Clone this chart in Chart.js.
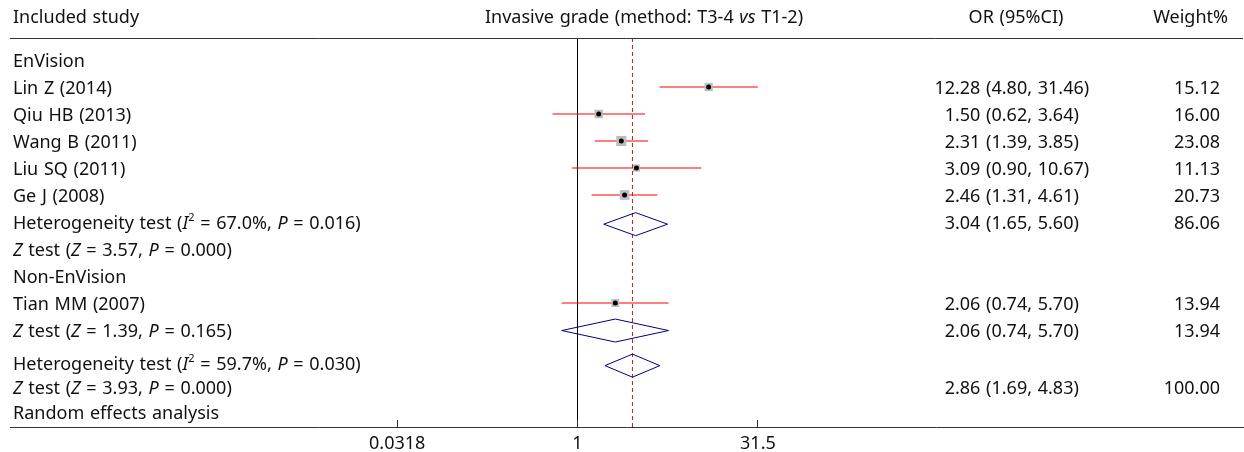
<!DOCTYPE html>
<html>
<head>
<meta charset="utf-8">
<script src="https://cdn.jsdelivr.net/npm/chart.js@4.4.1/dist/chart.umd.min.js"></script>
<style>
  html, body { margin: 0; background: #fff; }
</style>
</head>
<body>
<canvas id="grafico" width="1244" height="452"></canvas>
<script>
// individual studies
const studies  = ['Lin Z (2014)', 'Qiu HB (2013)', 'Wang B (2011)', 'Liu SQ (2011)', 'Ge J (2008)', 'Tian MM (2007)'];
const orValue  = [12.28, 1.50, 2.31, 3.09, 2.46, 2.06];
const ciLow    = [4.80, 0.62, 1.39, 0.90, 1.31, 0.74];
const ciHigh   = [31.46, 3.64, 3.85, 10.67, 4.61, 5.70];
const weights  = [15.12, 16.00, 23.08, 11.13, 20.73, 13.94];

// pooled results: EnVision, Non-EnVision, all studies
const pooledOR     = [3.04, 2.06, 2.86];
const pooledLow    = [1.65, 0.74, 1.69];
const pooledHigh   = [5.60, 5.70, 4.83];
const pooledWeight = [86.06, 13.94, 100.00];

const groups = ['EnVision', 'Non-EnVision'];
const hetI2  = ['67.0', '59.7'];
const hetP   = ['0.016', '0.030'];
const zStat  = ['3.57', '1.39', '3.93'];
const zP     = ['0.000', '0.165', '0.000'];

const tickValues = [0.0318, 1, 31.5];
const tickLabels = ['0.0318', '1', '31.5'];

// row layout (row units on the y axis, top to bottom), 27px per row
const studyRow  = [1, 2, 3, 4, 5, 9];
const pooledRow = [6.08, 10.02, 11.32];
const yMin = -22 / 27, yMax = 367 / 27;
const halfDiamond = 0.426;

// log axis range: OR = 1 sits at x = 577.5, ~120.4px per decade
const xMinExp = -4.7135, xMaxExp = 5.5357;

const FONT = '"Noto Sans", "DejaVu Sans", sans-serif';
const FS = 18;

function pts(xs, ys) { return xs.map((x, i) => ({ x: x, y: ys[i] })); }

const datasets = [];

// reference lines: no effect and pooled estimate
datasets.push({
  data: pts([1, 1], [yMin, yMax]), showLine: true, borderColor: '#000',
  borderWidth: 1, pointRadius: 0, order: 6
});
datasets.push({
  data: pts([pooledOR[2], pooledOR[2]], [yMin, yMax]), showLine: true,
  borderColor: '#a3262b', borderWidth: 1, borderDash: [4, 3], pointRadius: 0, order: 5
});

// confidence interval of each study
studies.forEach((s, i) => {
  datasets.push({
    label: s,
    data: pts([ciLow[i], ciHigh[i]], [studyRow[i], studyRow[i]]),
    showLine: true, borderColor: '#ff0000', borderWidth: 1.2, pointRadius: 0, order: 4
  });
});

// weight boxes
datasets.push({
  data: pts(orValue, studyRow), pointStyle: 'rect',
  pointRadius: c => 1.5 * Math.sqrt(weights[c.dataIndex]),
  backgroundColor: '#bdbdbd', borderWidth: 0, order: 3
});
// point estimates
datasets.push({
  data: pts(orValue, studyRow), pointStyle: 'circle', pointRadius: 2.5,
  backgroundColor: '#000', borderWidth: 0, order: 2
});

// pooled diamonds
pooledOR.forEach((v, i) => {
  const r = pooledRow[i];
  datasets.push({
    data: pts([pooledLow[i], v, pooledHigh[i], v, pooledLow[i]],
              [r, r - halfDiamond, r, r + halfDiamond, r]),
    showLine: true, borderColor: '#00007f', borderWidth: 1, pointRadius: 0, order: 1
  });
});

// text helpers
function segFont(st) {
  if (st === 'i') return 'italic ' + FS + 'px ' + FONT;
  if (st === 's') return '11px ' + FONT;
  return FS + 'px ' + FONT;
}
function segWidth(ctx, segs) {
  let w = 0;
  segs.forEach(s => { ctx.font = segFont(s[1]); w += ctx.measureText(s[0]).width; });
  return w;
}
function drawRich(ctx, segs, x, y, align) {
  let cx = x;
  const w = segWidth(ctx, segs);
  if (align === 'center') cx = x - w / 2;
  if (align === 'right') cx = x - w;
  ctx.textAlign = 'left';
  ctx.textBaseline = 'middle';
  segs.forEach(s => {
    ctx.font = segFont(s[1]);
    ctx.fillText(s[0], cx, s[1] === 's' ? y - 6 : y);
    cx += ctx.measureText(s[0]).width;
  });
}
function hetText(g) {
  return [['Heterogeneity test ('], ['I', 'i'], ['2', 's'], [' = ' + hetI2[g] + '%, '], ['P', 'i'], [' = ' + hetP[g] + ')']];
}
function zText(k) {
  return [['Z', 'i'], [' test ('], ['Z', 'i'], [' = ' + zStat[k] + ', '], ['P', 'i'], [' = ' + zP[k] + ')']];
}
function orText(v, lo, hi) {
  return v.toFixed(2) + ' (' + lo.toFixed(2) + ', ' + hi.toFixed(2) + ')';
}

// table rows: left label, optional OR text and weight
const rows = [];
rows.push({ r: 0, segs: [[groups[0]]] });
studies.slice(0, 5).forEach((s, i) => rows.push({ r: studyRow[i], segs: [[s]], or: [orValue[i], ciLow[i], ciHigh[i]], w: weights[i] }));
rows.push({ r: 6, segs: hetText(0), or: [pooledOR[0], pooledLow[0], pooledHigh[0]], w: pooledWeight[0] });
rows.push({ r: 7, segs: zText(0) });
rows.push({ r: 8, segs: [[groups[1]]] });
rows.push({ r: studyRow[5], segs: [[studies[5]]], or: [orValue[5], ciLow[5], ciHigh[5]], w: weights[5] });
rows.push({ r: 10, segs: zText(1), or: [pooledOR[1], pooledLow[1], pooledHigh[1]], w: pooledWeight[1] });
rows.push({ r: 11.2, segs: hetText(1) });
rows.push({ r: 12.12, segs: zText(2), or: [pooledOR[2], pooledLow[2], pooledHigh[2]], w: pooledWeight[2] });
rows.push({ r: 13.05, segs: [['Random effects analysis']] });

const tablePlugin = {
  id: 'forestTable',
  afterDraw(chart) {
    const ctx = chart.ctx;
    const ys = chart.scales.y, xs = chart.scales.x;
    const area = chart.chartArea;
    ctx.save();
    ctx.fillStyle = '#111';
    ctx.wordSpacing = '1px';

    // header
    const hy = ys.getPixelForValue(-1.63) + 2;
    drawRich(ctx, [['Included study']], 13, hy, 'left');
    drawRich(ctx, [['Invasive grade (method: T3-4 '], ['vs', 'i'], [' T1-2)']], 644, hy, 'center');
    drawRich(ctx, [['OR (95%CI)']], 1016, hy, 'center');
    drawRich(ctx, [['Weight%']], 1228, hy, 'right');

    ctx.strokeStyle = '#333';
    ctx.lineWidth = 1;
    ctx.beginPath();
    ctx.moveTo(area.left, area.top + 0.5);
    ctx.lineTo(area.right - 1, area.top + 0.5);
    ctx.stroke();

    rows.forEach(row => {
      const y = ys.getPixelForValue(row.r) + 2;
      drawRich(ctx, row.segs, 13, y, 'left');
      if (row.or) {
        ctx.font = FS + 'px ' + FONT;
        const intPart = String(Math.floor(row.or[0]));
        const x0 = 955 - ctx.measureText(intPart).width;
        drawRich(ctx, [[orText(row.or[0], row.or[1], row.or[2])]], x0, y, 'left');
        drawRich(ctx, [[row.w.toFixed(2)]], 1220, y, 'right');
      }
    });

    // tick marks pointing up from the axis
    ctx.strokeStyle = '#333';
    ctx.beginPath();
    tickValues.forEach(v => {
      const x = Math.floor(xs.getPixelForValue(v)) + 0.5;
      ctx.moveTo(x, area.bottom);
      ctx.lineTo(x, area.bottom - 7);
    });
    ctx.stroke();
    ctx.restore();
  }
};

new Chart(document.getElementById('grafico'), {
  type: 'scatter',
  data: { datasets: datasets },
  options: {
    responsive: false,
    animation: false,
    layout: { autoPadding: false, padding: { left: 10, right: 0, top: 38, bottom: 0 } },
    plugins: { legend: { display: false }, tooltip: { enabled: false } },
    scales: {
      x: {
        type: 'logarithmic',
        bounds: 'data',
        min: Math.pow(10, xMinExp),
        max: Math.pow(10, xMaxExp),
        grid: { display: false, drawTicks: false },
        border: { display: true, color: '#333', width: 1 },
        afterBuildTicks: s => { s.ticks = tickValues.map(v => ({ value: v })); },
        afterFit: s => { s.height = 25; s.paddingLeft = 0; s.paddingRight = 0; },
        ticks: {
          autoSkip: false, maxRotation: 0, padding: 6, color: '#111',
          font: { family: FONT, size: FS },
          callback: (v, i) => tickLabels[i]
        }
      },
      y: {
        type: 'linear', reverse: true, min: yMin, max: yMax, display: false
      }
    }
  },
  plugins: [tablePlugin]
});
</script>
</body>
</html>
